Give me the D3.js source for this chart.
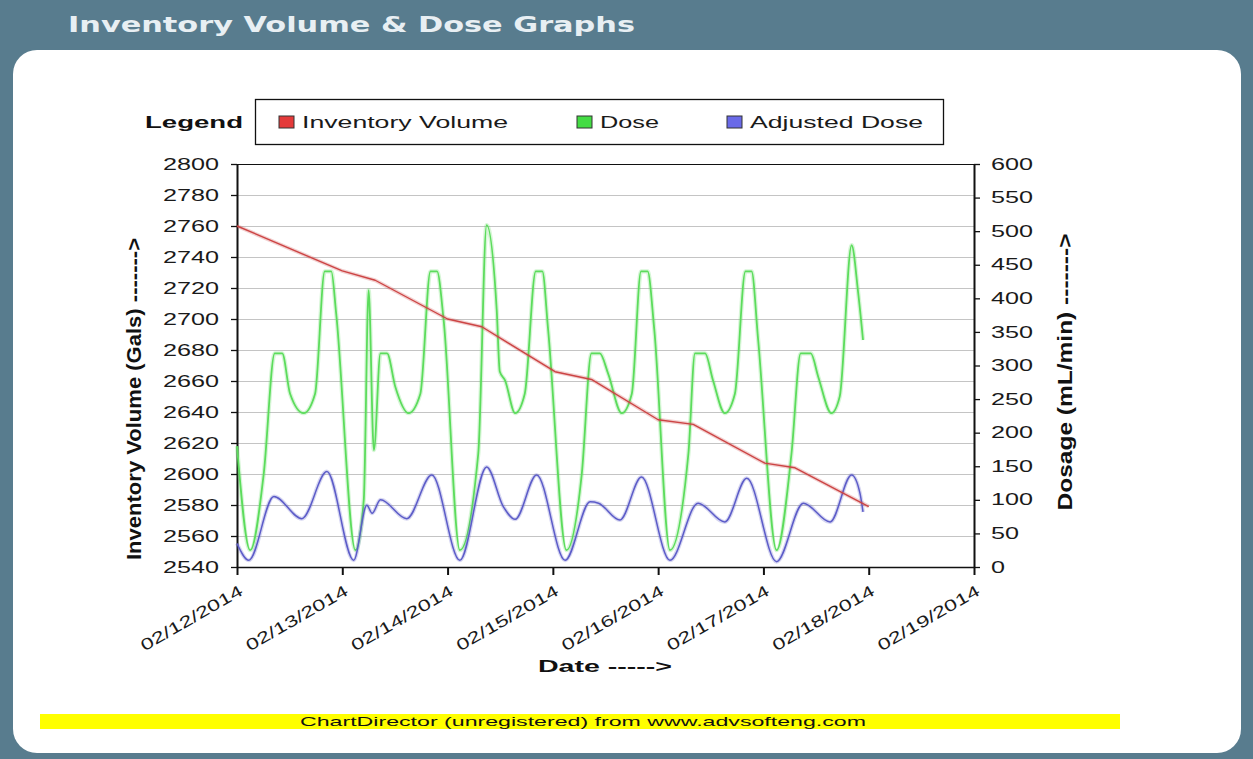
<!DOCTYPE html>
<html>
<head>
<meta charset="utf-8">
<script src="https://cdn.jsdelivr.net/npm/d3@7"></script>
<style>
  body { margin: 0; background: #587c8e; }
  svg { display: block; font-family: "Liberation Sans", Arial, sans-serif; }
</style>
</head>
<body>
<div id="chart"></div>
<script>
/* Inventory volume & dose chart (ChartDirector look-alike) */

// ---- data ----
const startDate = new Date(2014, 1, 12);
const endDate = new Date(2014, 1, 19);

const leftTicks = [2540, 2560, 2580, 2600, 2620, 2640, 2660, 2680, 2700, 2720, 2740, 2760, 2780, 2800];
const rightTicks = [0, 50, 100, 150, 200, 250, 300, 350, 400, 450, 500, 550, 600];

const seriesNames = ["Inventory Volume", "Dose", "Adjusted Dose"];

// hours after 02/12/2014 00:00
const invHours = [0, 24, 31.5, 48, 55.8, 72.5, 80.8, 96, 104, 120.3, 127.2, 144];
const invValues = [2760, 2731, 2725, 2700, 2695, 2666, 2661, 2635, 2632, 2607, 2604, 2579];

const doseHours = [0, 3.0, 6.1, 8.6, 10.3, 12.1, 15.2, 17.8, 20.0, 21.5, 22.6, 27.0, 28.9, 30.0, 31.2,
  32.7, 34.2, 36.1, 39.1, 41.8, 44.1, 45.6, 47.1, 50.8, 55.0, 56.9, 59.2, 59.9, 61.1, 63.4, 65.6,
  68.1, 69.6, 70.9, 75.1, 78.6, 80.8, 82.7, 84.6, 87.7, 90.0, 92.1, 93.6, 95.1, 98.7, 102.9, 104.4,
  106.7, 108.5, 111.2, 113.5, 115.9, 117.3, 118.8, 123.0, 126.4, 128.5, 130.8, 132.5, 135.5, 137.4,
  140.1, 141.6, 142.7];
const doseValues = [180, 25, 139, 318, 318, 258, 229, 258, 440, 440, 378, 25, 100, 412, 174,
  318, 318, 268, 229, 258, 440, 440, 368, 25, 169, 509, 383, 291, 278, 229, 258,
  440, 440, 355, 25, 139, 318, 318, 288, 229, 258, 440, 440, 355, 25, 169, 318,
  318, 278, 229, 258, 440, 440, 338, 25, 169, 318, 318, 283, 229, 254,
  479, 408, 338];

const adjHours = [0, 2.7, 8.4, 14.8, 20.5, 26.6, 29.6, 30.8, 32.7, 38.7, 44.4, 50.8, 56.9, 60.7, 63.4,
  68.3, 74.8, 80.5, 82.4, 87.3, 92.2, 98.7, 105.1, 111.2, 116.2, 123.0, 129.1, 135.2, 140.1, 142.0, 142.7];
const adjValues = [35, 10, 105, 72, 142, 10, 92, 80, 100, 72, 137, 10, 149, 90, 71,
  137, 10, 97, 95, 70, 134, 10, 95, 67, 132, 8, 95, 67, 137, 110, 82];

// ---- layout ----
const W = 1253, H = 759;
const plot = {left: 237, right: 974, top: 164, bottom: 567};
const lineColors = ["#cc4444", "#5cdc5c", "#5c5cc8"];
const swatchColors = ["#e43a3a", "#44dc44", "#6a6ae8"];

const svg = d3.select("#chart").append("svg")
    .attr("width", W)
    .attr("height", H);

// stretch text horizontally to the width seen in the reference
const widen = (sel, len) => sel.attr("textLength", len).attr("lengthAdjust", "spacingAndGlyphs");

// frame
svg.append("rect").attr("width", W).attr("height", H).attr("fill", "#587c8e");
svg.append("rect")
    .attr("x", 13).attr("y", 50)
    .attr("width", 1228).attr("height", 703)
    .attr("rx", 24)
    .attr("fill", "#ffffff");

svg.append("text")
    .attr("x", 68).attr("y", 32)
    .attr("font-family", "DejaVu Sans")
    .attr("font-weight", "bold")
    .attr("font-size", 21)
    .attr("fill", "#e8eff3")
    .text("Inventory Volume & Dose Graphs")
    .call(widen, 567);

// scales
const x = d3.scaleTime().domain([startDate, endDate]).range([plot.left, plot.right]);
const yL = d3.scaleLinear().domain([2540, 2800]).range([plot.bottom, plot.top]);
const yR = d3.scaleLinear().domain([0, 600]).range([plot.bottom, plot.top]);
const hourDate = h => new Date(startDate.getTime() + h * 3600 * 1000);

// grid
svg.append("g")
    .selectAll("line")
    .data(leftTicks)
    .join("line")
    .attr("x1", plot.left).attr("x2", plot.right)
    .attr("y1", d => yL(d) + 0.5).attr("y2", d => yL(d) + 0.5)
    .attr("stroke", "#c4c4c4")
    .attr("stroke-width", 1);

// plot border (top)
svg.append("line")
    .attr("x1", plot.left).attr("x2", plot.right)
    .attr("y1", plot.top + 0.5).attr("y2", plot.top + 0.5)
    .attr("stroke", "#111");

// axes
const styleAxis = (g, vertical) => {
    g.select(".domain").attr("stroke", "#111").attr("stroke-width", vertical ? 2 : 1.3);
    g.selectAll(".tick line").attr("stroke", "#111").attr("stroke-width", vertical ? 1.3 : 2);
    g.selectAll(".tick text")
        .attr("font-size", 16)
        .attr("fill", "#1a1a1a")
        .each(function (d) { widen(d3.select(this), String(d).length * 14); });
};

svg.append("g")
    .attr("transform", `translate(${plot.left},0)`)
    .call(d3.axisLeft(yL).tickValues(leftTicks).tickFormat(d3.format("d"))
        .tickSize(6).tickSizeOuter(0).tickPadding(12))
    .call(g => styleAxis(g, true));

svg.append("g")
    .attr("transform", `translate(${plot.right},0)`)
    .call(d3.axisRight(yR).tickValues(rightTicks).tickFormat(d3.format("d"))
        .tickSize(6).tickSizeOuter(0).tickPadding(11))
    .call(g => styleAxis(g, true));

const dayTicks = d3.timeDay.range(startDate, d3.timeDay.offset(endDate, 1));
const fmt = d3.timeFormat("%m/%d/%Y");
const xAxis = svg.append("g")
    .attr("transform", `translate(0,${plot.bottom})`)
    .call(d3.axisBottom(x).tickValues(dayTicks).tickSize(8).tickSizeOuter(0).tickFormat(""));
xAxis.select(".domain").attr("stroke", "#111").attr("stroke-width", 1.3);
xAxis.selectAll(".tick line").attr("stroke", "#111").attr("stroke-width", 2);

svg.append("g")
    .selectAll("text")
    .data(dayTicks)
    .join("text")
    .attr("transform", d => `translate(${x(d) + 7},${plot.bottom + 27}) rotate(-30)`)
    .attr("text-anchor", "end")
    .attr("font-size", 16)
    .attr("fill", "#1a1a1a")
    .text(d => fmt(d))
    .call(widen, 115);

// axis titles
svg.append("text")
    .attr("x", 538).attr("y", 672)
    .attr("font-weight", "bold")
    .attr("font-size", 16)
    .attr("fill", "#111")
    .text("Date ----->")
    .call(widen, 134);

svg.append("text")
    .attr("transform", "translate(141,399) rotate(-90)")
    .attr("text-anchor", "middle")
    .attr("font-weight", "bold")
    .attr("font-size", 20)
    .attr("fill", "#111")
    .text("Inventory Volume (Gals) ------->")
    .call(widen, 322);

svg.append("text")
    .attr("transform", "translate(1072,372) rotate(-90)")
    .attr("text-anchor", "middle")
    .attr("font-weight", "bold")
    .attr("font-size", 20)
    .attr("fill", "#111")
    .text("Dosage (mL/min) ------->")
    .call(widen, 277);

// lines
const drawSeries = (hours, values, yScale, color, width, curve) => {
    const line = d3.line()
        .x(d => x(hourDate(d[0])))
        .y(d => yScale(d[1]))
        .curve(curve);
    const pts = d3.zip(hours, values);
    // soft halo like the original jpeg
    svg.append("path")
        .datum(pts)
        .attr("d", line)
        .attr("fill", "none")
        .attr("stroke", color)
        .attr("stroke-opacity", 0.25)
        .attr("stroke-width", width + 2.5);
    svg.append("path")
        .datum(pts)
        .attr("d", line)
        .attr("fill", "none")
        .attr("stroke", color)
        .attr("stroke-width", width)
        .attr("stroke-linejoin", "round");
};

drawSeries(doseHours, doseValues, yR, lineColors[1], 1.8, d3.curveMonotoneX);
drawSeries(adjHours, adjValues, yR, lineColors[2], 1.5, d3.curveMonotoneX);
drawSeries(invHours, invValues, yL, lineColors[0], 1.4, d3.curveLinear);

// legend
svg.append("text")
    .attr("x", 145).attr("y", 128)
    .attr("font-weight", "bold")
    .attr("font-size", 17)
    .attr("fill", "#111")
    .text("Legend")
    .call(widen, 98);

svg.append("rect")
    .attr("x", 255.5).attr("y", 99.5)
    .attr("width", 688).attr("height", 45)
    .attr("fill", "#fff")
    .attr("stroke", "#111")
    .attr("stroke-width", 1.3);

const legendX = [302, 600, 750];
const legendW = [206, 59, 173];
const legend = svg.append("g")
    .selectAll("g")
    .data(seriesNames)
    .join("g");
legend.append("rect")
    .attr("x", (d, i) => legendX[i] - 23)
    .attr("y", 116)
    .attr("width", 15).attr("height", 12)
    .attr("fill", (d, i) => swatchColors[i])
    .attr("stroke", "#333");
legend.append("text")
    .attr("x", (d, i) => legendX[i])
    .attr("y", 128)
    .attr("font-size", 17)
    .attr("fill", "#1a1a1a")
    .text(d => d)
    .each(function (d, i) { widen(d3.select(this), legendW[i]); });

// watermark bar
svg.append("rect")
    .attr("x", 40).attr("y", 714)
    .attr("width", 1080).attr("height", 15)
    .attr("fill", "#ffff00");
svg.append("text")
    .attr("x", 583).attr("y", 726)
    .attr("text-anchor", "middle")
    .attr("font-size", 13)
    .attr("fill", "#111")
    .text("ChartDirector (unregistered) from www.advsofteng.com")
    .call(widen, 566);
</script>
</body>
</html>
